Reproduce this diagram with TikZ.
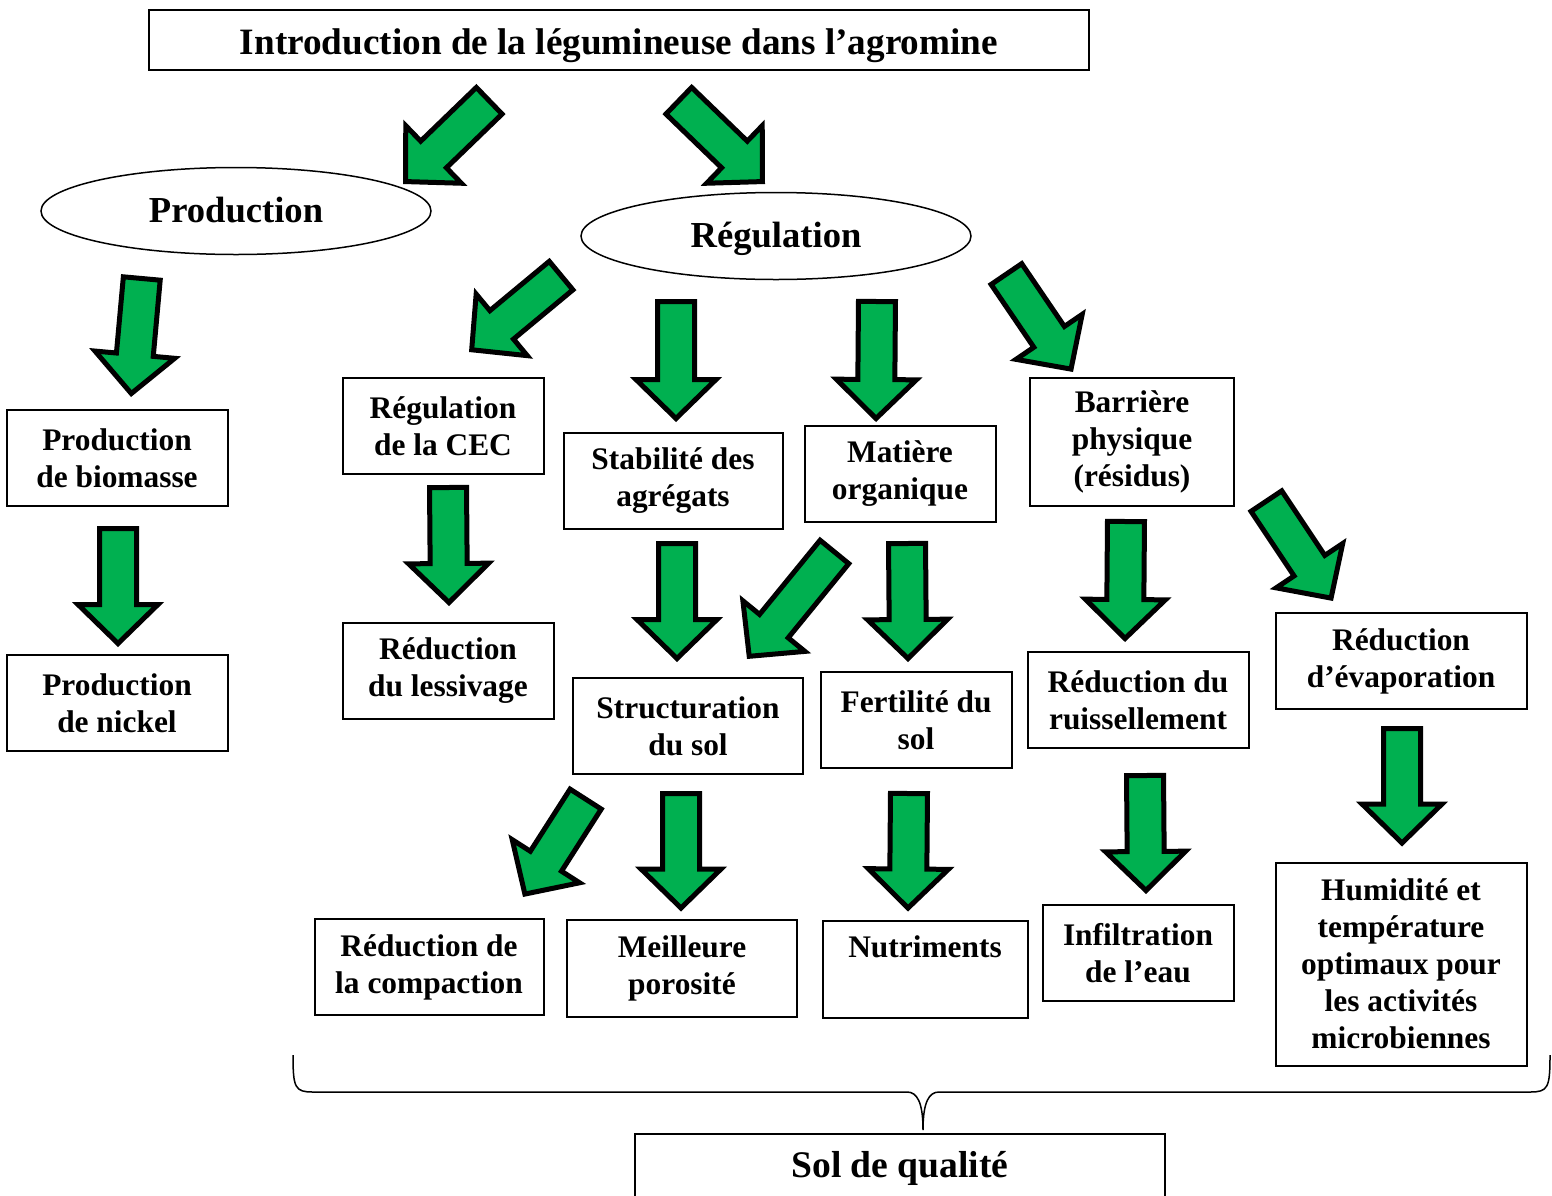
\documentclass[tikz,border=0pt]{standalone}
\usepackage{fontspec}
\setmainfont{Liberation Serif}
\usepackage{xcolor}
\usepackage{tikz}
\usetikzlibrary{positioning, calc, shapes.geometric}
\definecolor{arrGreen}{HTML}{00B050}
\definecolor{lineBlack}{HTML}{000000}
\newcommand{\boxfont}{\fontsize{15.7}{18.5}\selectfont\bfseries}
\newcommand{\titlefont}{\fontsize{18.6}{21}\selectfont\bfseries}
\newcommand{\ovalfont}{\fontsize{18.3}{21}\selectfont\bfseries}
% fat green arrow: #1 = tail centre, #2 = tip
\newcommand{\bigarrow}[2]{%
  \path #1 coordinate (ba-a) #2 coordinate (ba-b);
  \coordinate (ba-tail) at ($(ba-a)!1.25pt!(ba-b)$);
  \coordinate (ba-tip)  at ($(ba-b)!1.75pt!(ba-a)$);
  \coordinate (ba-base) at ($(ba-tip)!19.5pt!(ba-tail)$);
  \draw[bigarr]
    ($(ba-tail)!9.25pt!90:(ba-tip)$) -- ($(ba-base)!9.25pt!-90:(ba-tail)$)
    -- ($(ba-base)!20pt!-90:(ba-tail)$) -- (ba-tip)
    -- ($(ba-base)!20pt!90:(ba-tail)$) -- ($(ba-base)!9.25pt!90:(ba-tail)$)
    -- ($(ba-tail)!9.25pt!-90:(ba-tip)$) -- cycle;}

\begin{document}
\begin{tikzpicture}[
  x=0.5pt, y=-0.5pt,
  box/.style={rectangle, draw=lineBlack, line width=1pt, align=center,
              font=\boxfont, inner sep=1pt, minimum height=48pt},
  oval/.style={ellipse, draw=lineBlack, line width=0.75pt, font=\ovalfont,
               inner sep=0pt, minimum width=195pt, minimum height=43.5pt,
               text height=15pt, text depth=4pt},
  bigarr/.style={fill=arrGreen, draw=lineBlack, line width=2.5pt,
                 line join=miter, miter limit=10},
  bracel/.style={draw=lineBlack, line width=0.75pt},
]
  \useasboundingbox (0,0) rectangle (1552,1195);
  \clip (0,0) rectangle (1552,1195);

  % ═══ Top: title and the two branches ═══
  \node[box, minimum width=470pt, minimum height=30pt, font=\titlefont,
        text height=18pt, text depth=4pt]
        (intro) at (619,40) {Introduction de la légumineuse dans l’agromine};
  \node[oval] (prod) at (236,211) {Production};
  \node[oval] (reg)  at (776,236) {Régulation};

  % ═══ Production branch ═══
  \node[box, minimum width=110.5pt] (bio)    at (117,458) {Production\\de biomasse};
  \node[box, minimum width=110.5pt] (nickel) at (117,703) {Production\\de nickel};

  % ═══ Regulation branch, first level ═══
  \node[box, minimum width=100.5pt] (cec)  at (443,426)  {Régulation\\de la CEC};
  \node[box, minimum width=109.5pt] (stab) at (673,481)  {Stabilité des\\agrégats};
  \node[box, minimum width=95.5pt]  (mat)  at (900,474)  {Matière\\organique};
  \node[box, minimum width=102pt, minimum height=64pt]
        (barr) at (1132,442) {Barrière\\physique\\(résidus)};

  % ═══ Second level ═══
  \node[box, minimum width=105.5pt] (less)   at (448,671)  {Réduction\\du lessivage};
  \node[box, minimum width=115pt]   (struct) at (688,726)  {Structuration\\du sol};
  \node[box, minimum width=95.5pt]  (fert)   at (916,720)  {Fertilité du\\sol};
  \node[box, minimum width=110.5pt] (ruis)   at (1138,700) {Réduction du\\ruissellement};
  \node[box, minimum width=125.5pt] (evap)   at (1401,661) {Réduction\\d’évaporation};

  % ═══ Third level ═══
  \node[box, minimum width=114.5pt] (comp)  at (429,967)  {Réduction de\\la compaction};
  \node[box, minimum width=115pt, minimum height=48.5pt]
        (poro) at (682,968) {Meilleure\\porosité};
  \node[box, minimum width=102.5pt, minimum height=48.5pt, text depth=22.5pt]
        (nutr) at (925,969) {Nutriments};
  \node[box, minimum width=95.5pt]  (infil) at (1138,953) {Infiltration\\de l’eau};
  \node[box, minimum width=125.5pt, minimum height=101.5pt]
        (hum) at (1401,964) {Humidité et\\température\\optimaux pour\\les activités\\microbiennes};

  % ═══ Bottom: brace and result ═══
  \node[box, minimum width=265pt, minimum height=34pt,
        font=\fontsize{18.8}{21}\selectfont\bfseries]
        (sol) at (900,1168) {Sol de qualité};
  \coordinate (brL) at (293,1055);
  \coordinate (brR) at (1550,1055);
  \coordinate (brM) at (923,1130);
  \draw[bracel] (brL) .. controls +(0,33) and +(-18,0) .. ($(brL)+(20,37)$)
    -- ($(brM)+(-16,-38)$) .. controls +(10,0) and +(0,-28) .. (brM)
    .. controls +(0,-28) and +(-10,0) .. ($(brM)+(16,-38)$)
    -- ($(brR)+(-20,37)$) .. controls +(18,0) and +(0,33) .. (brR);

  % ═══ Green arrows ═══
  \bigarrow{($(intro.south)+(-128,28)$)}{($(intro.south)+(-216,113)$)}
  \bigarrow{($(intro.south)+(58,28)$)}{($(intro.south)+(146,113)$)}
  \bigarrow{($(bio.north)+(25,-133)$)}{($(bio.north)+(14,-12)$)}
  \bigarrow{($(bio.south)+(1,19)$)}{($(nickel.north)+(1,-7)$)}
  \bigarrow{($(cec.north)+(120,-103)$)}{($(cec.north)+(26,-25)$)}
  \bigarrow{($(stab.north)+(3,-133)$)}{($(stab.north)+(3,-10)$)}
  \bigarrow{($(mat.north)+(-23,-126)$)}{($(mat.north)+(-24,-3)$)}
  \bigarrow{($(barr.north)+(-127,-105)$)}{($(barr.north)+(-59,-5)$)}
  \bigarrow{($(cec.south)+(5,10)$)}{($(less.north)+(1,-16)$)}
  \bigarrow{($(stab.south)+(4,11)$)}{($(struct.north)+(-11,-15)$)}
  \bigarrow{($(mat.south)+(-64,27)$)}{($(struct.north)+(59,-18)$)}
  \bigarrow{($(mat.south)+(7,18)$)}{($(fert.north)+(-8,-9)$)}
  \bigarrow{($(barr.south)+(-6,12)$)}{($(ruis.north)+(-13,-9)$)}
  \bigarrow{($(evap.north)+(-136,-113)$)}{($(evap.north)+(-68,-11)$)}
  \bigarrow{($(struct.south)+(-101,22)$)}{($(comp.north)+(94,-21)$)}
  \bigarrow{($(struct.south)+(-7,16)$)}{($(poro.north)+(-1,-7)$)}
  \bigarrow{($(fert.south)+(-7,22)$)}{($(nutr.north)+(-17,-8)$)}
  \bigarrow{($(ruis.south)+(7,24)$)}{($(infil.north)+(8,-10)$)}
  \bigarrow{($(evap.south)+(1,16)$)}{($(hum.north)+(1,-15)$)}
\end{tikzpicture}
\end{document}
